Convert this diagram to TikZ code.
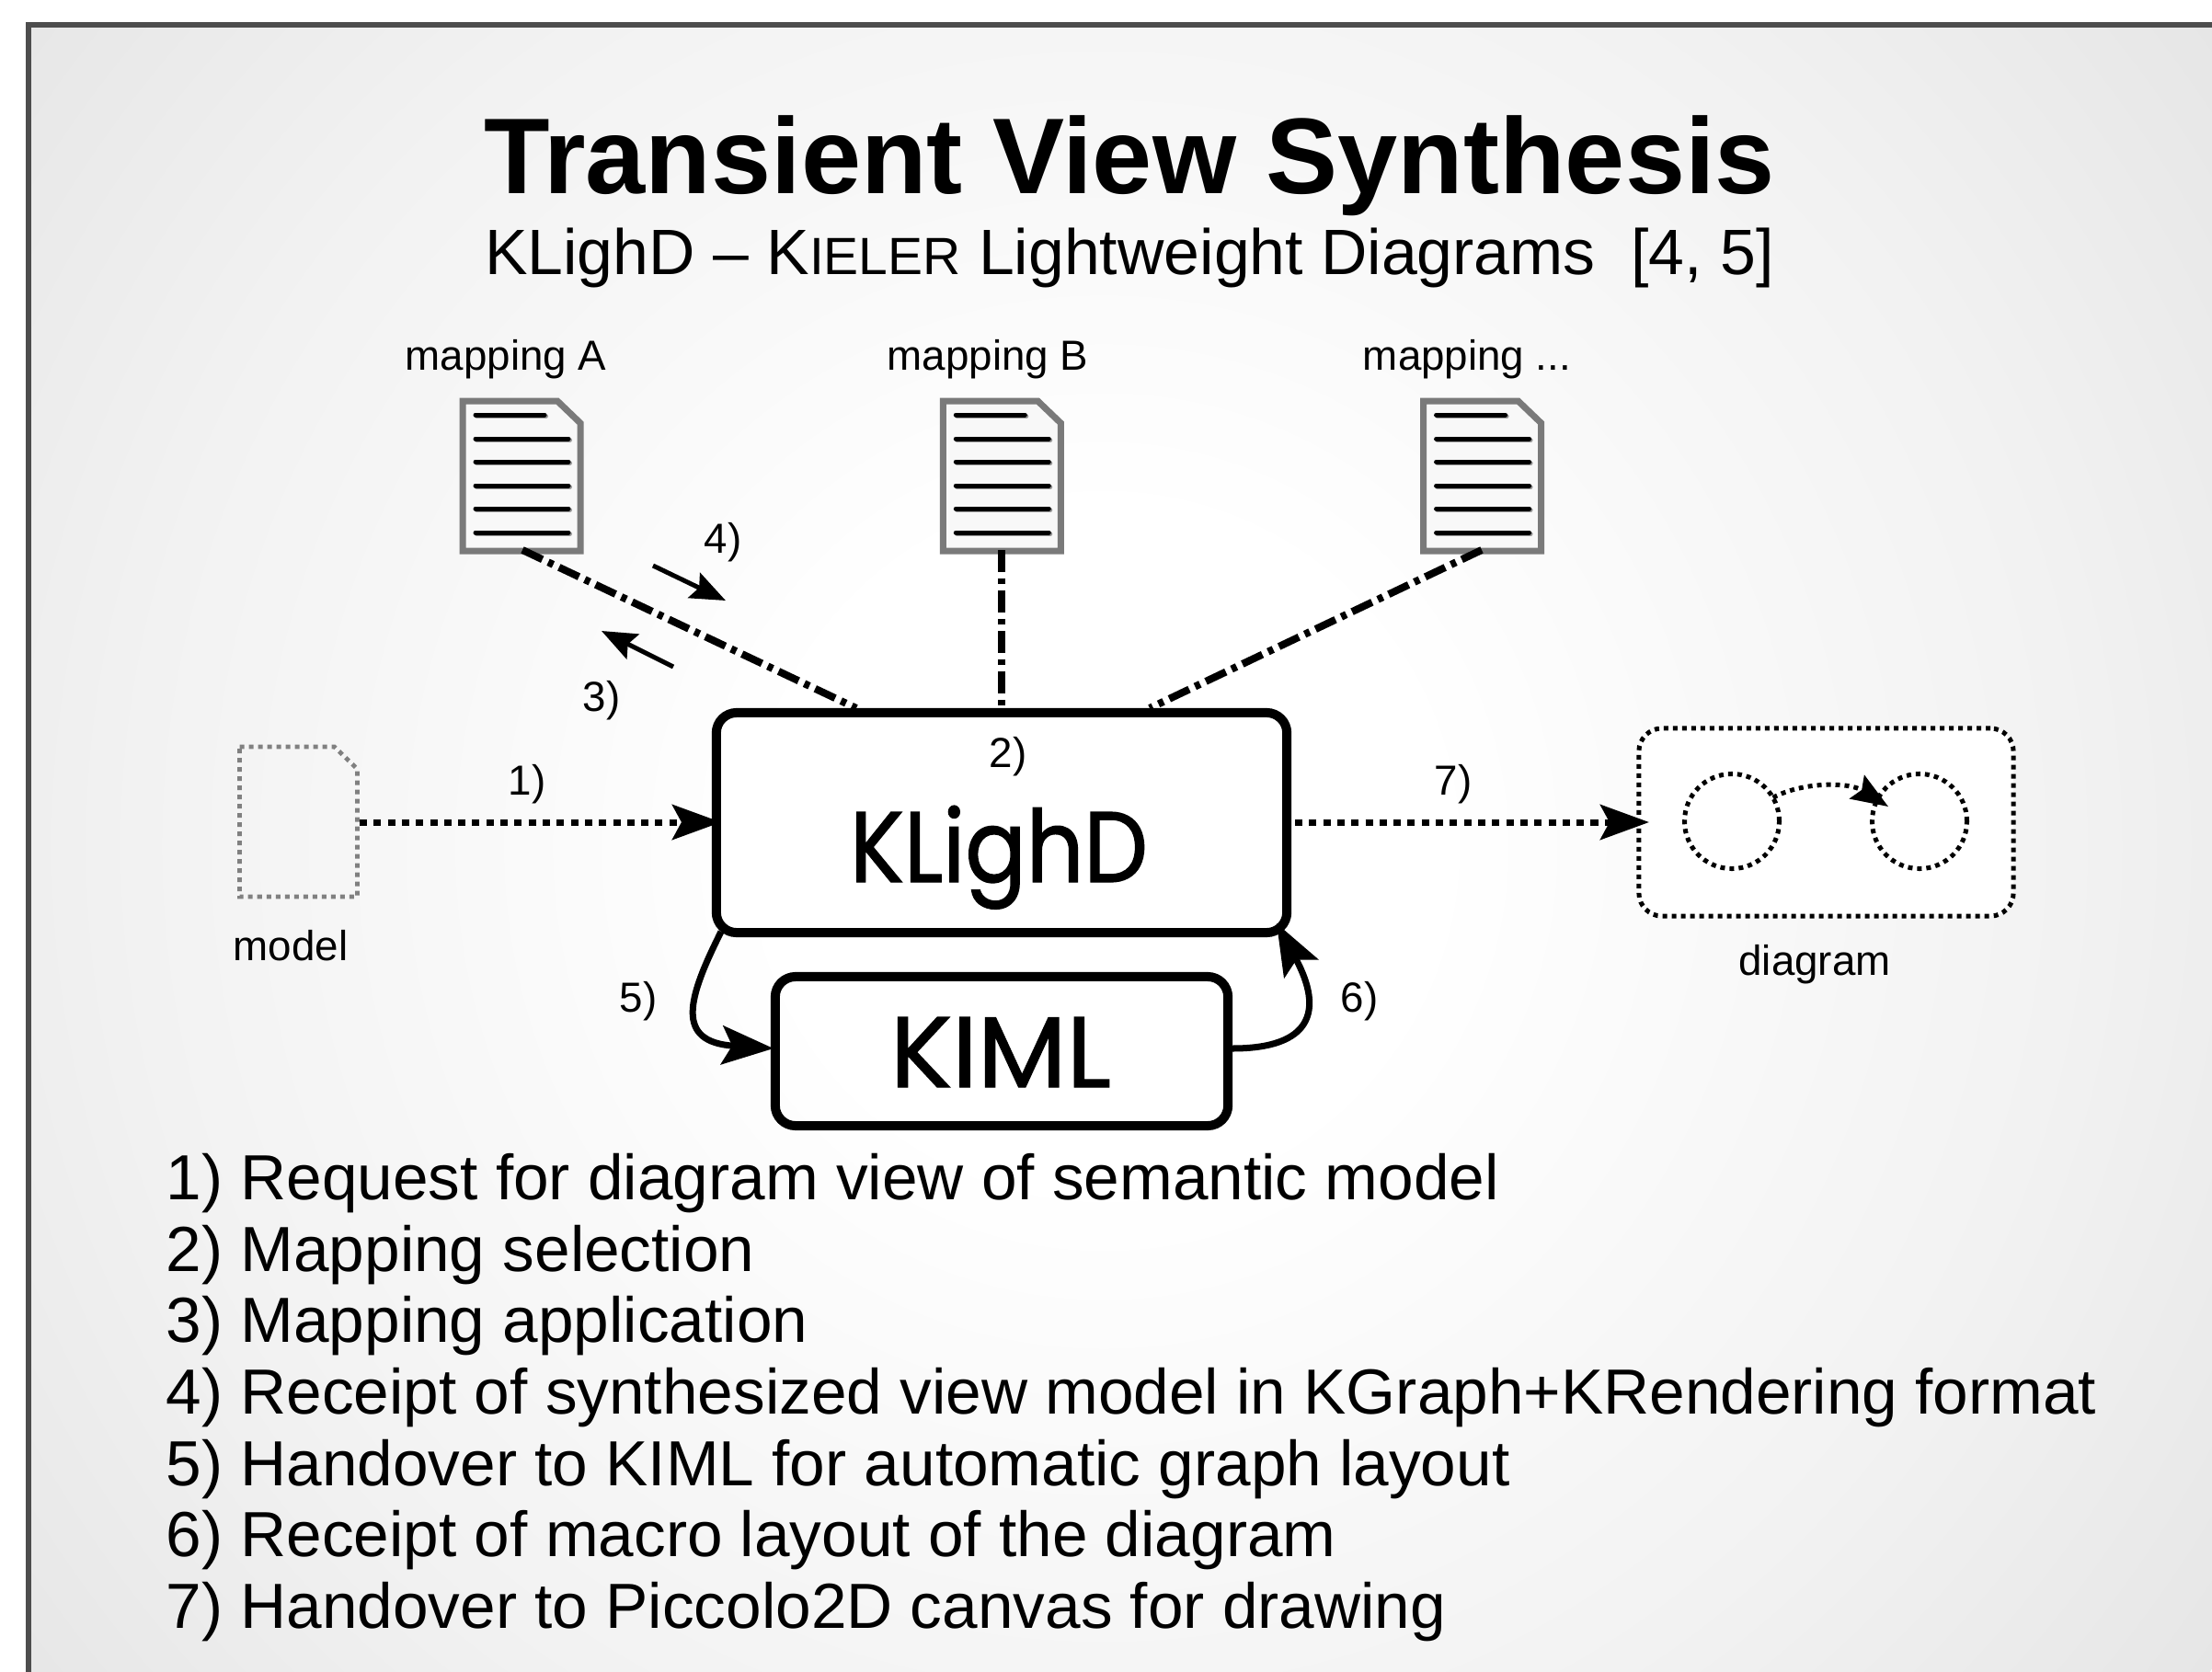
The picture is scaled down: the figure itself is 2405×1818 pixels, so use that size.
\documentclass[tikz,border=0pt]{standalone}
\usepackage{fontspec}
\setmainfont{Liberation Sans}
\newfontfamily\geofont[FakeStretch=0.9,FakeBold=1.2]{Poppins}
\newfontfamily\geofontwide[FakeStretch=1.03,FakeBold=1.2]{Poppins}
\usetikzlibrary{arrows.meta}
\definecolor{bgmid}{HTML}{F2F2F2}
\definecolor{bgedge}{HTML}{E6E6E6}
\definecolor{framecol}{HTML}{4D4D4D}
\definecolor{doccol}{HTML}{7A7A7A}
\definecolor{docfill}{HTML}{F8F8F8}
\definecolor{shadowcol}{HTML}{9A9A9A}
\pgfdeclareradialshading{bgshade}{\pgfpointorigin}{color(0bp)=(white);color(6bp)=(white);color(17.5bp)=(bgmid);color(25bp)=(bgedge);color(50bp)=(bgedge)}
\newcommand{\fs}[1]{\fontsize{#1}{#1}\selectfont}
\newcommand{\docicon}[2]{%
  \begin{scope}[xshift=#1cm]
    \draw[doccol,line width=0.07cm,fill=docfill,miter limit=10] (503,436) -- (606,436) -- (631,460) -- (631,599) -- (503,599) -- cycle;
    \foreach \yy/\xe in {451/592,477/618,502/618,528/618,553/618,579/618}{
      \draw[shadowcol,line width=0.05cm,line cap=round] (518.5,\yy+1.8) -- (\xe+1.5,\yy+1.8);
      \draw[black,line width=0.05cm,line cap=round] (517,\yy) -- (\xe,\yy);
    }
  \end{scope}}
\tikzset{
  smalltext/.style={anchor=base,inner sep=0pt,font=\fs{13}},
  listtext/.style={anchor=base west,inner sep=0pt,font=\fs{19.72}},
  mainbox/.style={draw=black,line width=0.1cm,rounded corners=0.22cm,outer sep=0pt,inner sep=0pt},
  dashdot/.style={line width=0.08cm,dash pattern=on 0.24cm off 0.07cm on 0.06cm off 0.07cm},
  dotline/.style={line width=0.07cm,dash pattern=on 0.08cm off 0.073cm,-{Stealth[length=0.53cm,width=0.38cm,inset=0.1cm]}},
  fineline/.style={line width=0.05cm,dash pattern=on 0.05cm off 0.05cm},
  thinarrow/.style={line width=0.05cm,-{Stealth[length=0.38cm,width=0.3cm,inset=0.06cm]}},
  curvearrow/.style={line width=0.07cm,-{Stealth[length=0.56cm,width=0.42cm,inset=0.11cm]}}
}
\begin{document}
\begin{tikzpicture}[x=0.01cm,y=-0.01cm]
\useasboundingbox (0,0) rectangle (2405,1818);
\fill[white] (0,0) rectangle (2405,1818);
\clip (0,0) rectangle (2405,1818);
\begin{scope}
  \clip (31,27) rectangle (2500,1900);
  \shade[shading=bgshade] (1200,920) circle[radius=15cm];
\end{scope}
\draw[framecol,line width=0.06cm] (31,1900) -- (31,27) -- (2500,27);

% titles
\node[anchor=base,inner sep=0pt,font=\bfseries\fs{33.3}] (title) at (1228,210) {Transient View Synthesis};
\node[anchor=base,inner sep=0pt,font=\fs{19.84}] (subtitle) at (1228,298) {KLighD -- K{\fs{16.2}IELER} Lightweight Diagrams\ \ [4, 5]};

% mappings
\docicon{0}{A}
\docicon{5.22}{B}
\docicon{10.44}{C}
\node[smalltext] (lA) at (550,402) {mapping A};
\node[smalltext] (lB) at (1074,402) {mapping B};
\node[smalltext] (lC) at (1595,402) {mapping ...};

\coordinate (docA) at (568,598);
\coordinate (docB) at (1089,598);
\coordinate (docC) at (1611,598);
\coordinate (kA) at (931,770);
\coordinate (kB) at (1089,770);
\coordinate (kC) at (1250,770);
\draw[dashdot] (docA) -- (kA);
\draw[dashdot] (docB) -- (kB);
\draw[dashdot] (docC) -- (kC);

% boxes
\node[mainbox,fill=white,minimum width=6.2cm,minimum height=2.39cm] (klighd) at (1089,894.5) {};
\node[mainbox,minimum width=4.92cm,minimum height=1.62cm] (kiml) at (1089,1143) {};
\node[anchor=base,inner sep=0pt,font=\geofont\fs{31}] (klighdt) at (1086,959) {KLighD};
\node[anchor=base,inner sep=0pt,font=\geofontwide\fs{31}] (kimlt) at (1088,1182) {KIML};

% model
\draw[gray,line width=0.047cm,dash pattern=on 0.05cm off 0.05cm] (260.5,812) -- (363.5,812) -- (388.4,836) -- (388.4,975) -- (260.5,975) -- cycle;
\node[smalltext] (model) at (316,1044) {model};

% diagram
\node[draw=black,fill=white,line width=0.05cm,dash pattern=on 0.05cm off 0.05cm,rounded corners=0.25cm,minimum width=4.07cm,minimum height=2.04cm,outer sep=0pt,inner sep=0pt] (dia) at (1985.5,894) {};
\node[draw=black,fineline,circle,minimum size=1.03cm,outer sep=0pt,inner sep=0pt] (c1) at (1883,893) {};
\node[draw=black,fineline,circle,minimum size=1.03cm,outer sep=0pt,inner sep=0pt] (c2) at (2087,893) {};
\draw[fineline,-{Stealth[length=0.4cm,width=0.3cm,inset=0.06cm]}] (c1.30) .. controls (1960,850) and (2010,850) .. (2053,877);
\node[smalltext] (diagram) at (1973,1060) {diagram};

% connectors
\coordinate (m1) at (391,894);
\coordinate (k1) at (784,894);
\draw[dotline] (m1) -- (k1);
\coordinate (k7) at (1408,894);
\coordinate (d7) at (1793,894);
\draw[dotline] (k7) -- (d7);

\coordinate (k5) at (784,1013);
\coordinate (i5) at (841,1140);
\draw[curvearrow] (k5) .. controls (748,1085) and (733,1133) .. (i5);
\coordinate (i6) at (1340,1140);
\coordinate (k6) at (1388,1004);
\draw[curvearrow] (i6) .. controls (1425,1140) and (1440,1100) .. (k6);

\coordinate (a4s) at (710,615);
\coordinate (a4e) at (789,653);
\draw[thinarrow] (a4s) -- (a4e);
\coordinate (a3s) at (732,725);
\coordinate (a3e) at (654,686);
\draw[thinarrow] (a3s) -- (a3e);

% step labels
\node[smalltext] (s1) at (573,864) {1)};
\node[smalltext] (s2) at (1096,834) {2)};
\node[smalltext] (s3) at (654,773) {3)};
\node[smalltext] (s4) at (786,601) {4)};
\node[smalltext] (s5) at (694,1100) {5)};
\node[smalltext] (s6) at (1478,1100) {6)};
\node[smalltext] (s7) at (1580,864) {7)};

% list
\node[listtext] (r1) at (180,1304) {1) Request for diagram view of semantic model};
\node[listtext] (r2) at (180,1382) {2) Mapping selection};
\node[listtext] (r3) at (180,1459) {3) Mapping application};
\node[listtext] (r4) at (180,1537) {4) Receipt of synthesized view model in KGraph+KRendering format};
\node[listtext] (r5) at (180,1615) {5) Handover to KIML for automatic graph layout};
\node[listtext] (r6) at (180,1692) {6) Receipt of macro layout of the diagram};
\node[listtext] (r7) at (180,1770) {7) Handover to Piccolo2D canvas for drawing};
\end{tikzpicture}
\end{document}
